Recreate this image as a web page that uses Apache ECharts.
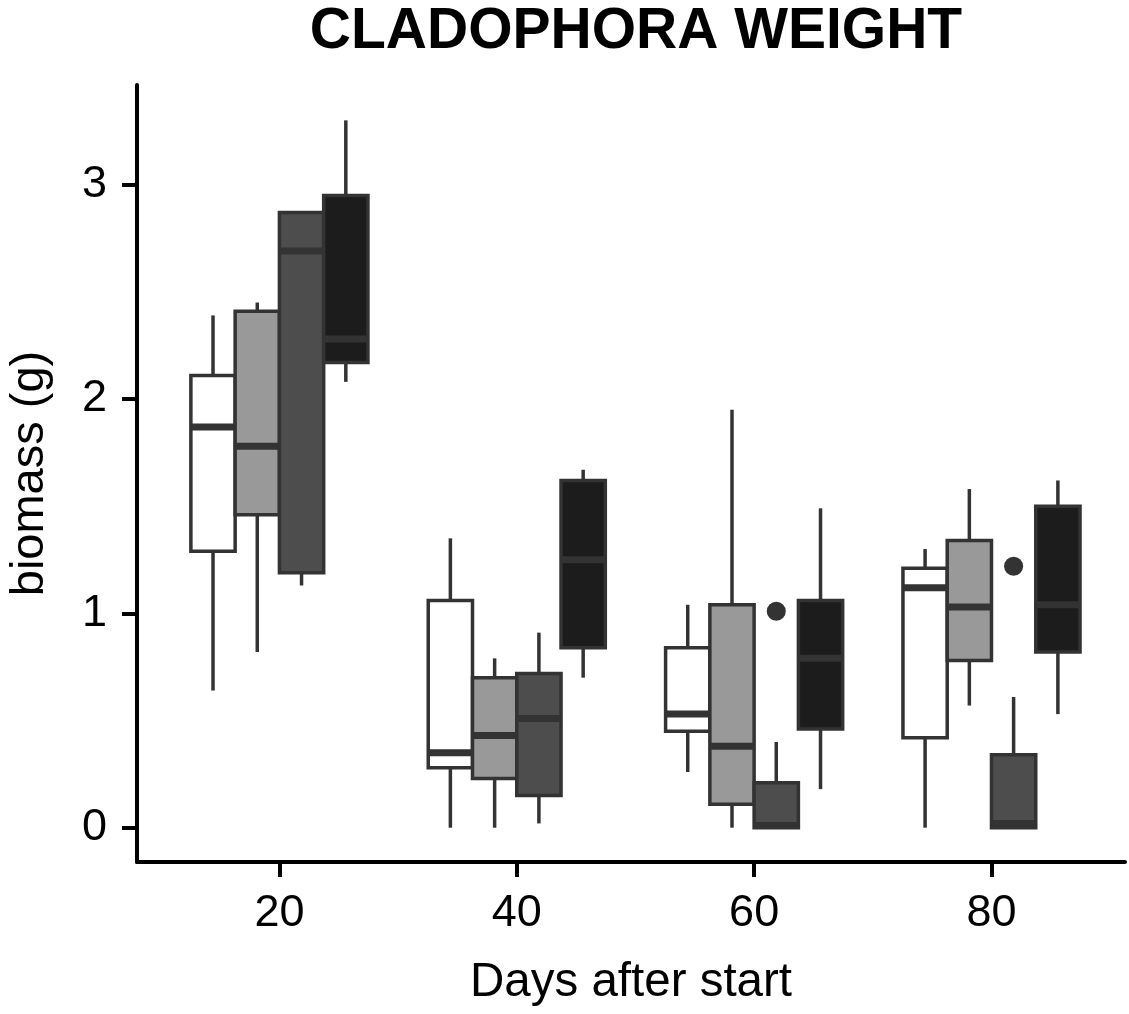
<!DOCTYPE html>
<html>
<head>
<meta charset="utf-8">
<script src="https://cdn.jsdelivr.net/npm/echarts@6/dist/echarts.min.js"></script>
<style>
  html, body { margin: 0; padding: 0; background: #ffffff; }
  #chart { width: 1129px; height: 1014px; }
</style>
</head>
<body>
<div id="chart"></div>
<script>
// ---- data ----
const days = [20, 40, 60, 80];
const xTickLabels = [20, 40, 60, 80];
const yTickLabels = [0, 1, 2, 3];

// each entry: [min, Q1, median, Q3, max] for days 20, 40, 60, 80
const treatment1 = [ // white
  [0.64, 1.29, 1.87, 2.11, 2.39],
  [0.00, 0.28, 0.35, 1.06, 1.35],
  [0.26, 0.45, 0.53, 0.84, 1.04],
  [0.00, 0.42, 1.12, 1.21, 1.30]
];
const treatment2 = [ // light grey
  [0.82, 1.46, 1.78, 2.41, 2.45],
  [0.00, 0.23, 0.43, 0.70, 0.79],
  [0.00, 0.11, 0.38, 1.04, 1.95],
  [0.57, 0.78, 1.03, 1.34, 1.58]
];
const treatment3 = [ // dark grey
  [1.13, 1.19, 2.69, 2.87, 2.87],
  [0.02, 0.15, 0.51, 0.72, 0.91],
  [0.00, 0.00, 0.01, 0.21, 0.40],
  [0.00, 0.00, 0.02, 0.34, 0.61]
];
const treatment4 = [ // black
  [2.08, 2.17, 2.28, 2.95, 3.30],
  [0.70, 0.84, 1.25, 1.62, 1.67],
  [0.18, 0.46, 0.79, 1.06, 1.49],
  [0.53, 0.82, 1.04, 1.50, 1.62]
];
const outlierDays = [60, 80];
const outlierTreatment = [2, 2]; // index of treatment (0-based)
const outlierValues = [1.01, 1.22];

// ---- styling / layout ----
const treatments = [treatment1, treatment2, treatment3, treatment4];
const fills = ['#FFFFFF', '#999999', '#4D4D4D', '#1C1C1C'];
const DODGE = 3.73;      // days between neighbouring boxes
const BOX_W = 3.73;      // box width in days
const LINE = '#333333';
const FONT = 'Liberation Sans, Arial, sans-serif';

function boxRenderer(k) {
  return function (params, api) {
    const xc = api.value(0) + (k - 1.5) * DODGE;
    const pMin = api.coord([xc, api.value(1)]);
    const pQ1 = api.coord([xc, api.value(2)]);
    const pMed = api.coord([xc, api.value(3)]);
    const pQ3 = api.coord([xc, api.value(4)]);
    const pMax = api.coord([xc, api.value(5)]);
    const halfW = api.size([BOX_W, 0])[0] / 2;
    const x = pMed[0];
    const lineStyle = { stroke: LINE, lineWidth: 3.5, fill: null };
    return {
      type: 'group',
      children: [
        { type: 'line', shape: { x1: x, y1: pQ3[1], x2: x, y2: pMax[1] }, style: lineStyle },
        { type: 'line', shape: { x1: x, y1: pQ1[1], x2: x, y2: pMin[1] }, style: lineStyle },
        { type: 'rect', shape: { x: x - halfW, y: pQ3[1], width: 2 * halfW, height: pQ1[1] - pQ3[1] },
          style: { fill: fills[k], stroke: LINE, lineWidth: 3.5 } },
        { type: 'line', shape: { x1: x - halfW, y1: pMed[1], x2: x + halfW, y2: pMed[1] },
          style: { stroke: LINE, lineWidth: 7 } }
      ]
    };
  };
}

const series = treatments.map(function (t, k) {
  return {
    type: 'custom',
    name: 'treatment' + (k + 1),
    renderItem: boxRenderer(k),
    dimensions: ['day', 'min', 'q1', 'median', 'q3', 'max'],
    encode: { x: 0, y: [1, 2, 3, 4, 5] },
    data: days.map(function (d, i) { return [d].concat(t[i]); }),
    clip: false,
    z: 2 + k
  };
});

series.push({
  type: 'custom',
  name: 'outliers',
  renderItem: function (params, api) {
    const xc = api.value(0) + (api.value(1) - 1.5) * DODGE;
    const p = api.coord([xc, api.value(2)]);
    return { type: 'circle', shape: { cx: p[0], cy: p[1], r: 9.5 }, style: { fill: LINE } };
  },
  dimensions: ['day', 'treatment', 'value'],
  encode: { x: 0, y: 2 },
  data: outlierDays.map(function (d, i) { return [d, outlierTreatment[i], outlierValues[i]]; }),
  z: 10
});

const chart = echarts.init(document.getElementById('chart'), null, { renderer: 'canvas' });
chart.setOption({
  animation: false,
  backgroundColor: '#ffffff',
  title: {
    text: 'CLADOPHORA WEIGHT',
    left: 636,
    top: 4,
    padding: 0,
    textAlign: 'center',
    textStyle: { fontFamily: FONT, fontSize: 57, fontWeight: 'bold', color: '#000000' }
  },
  grid: { left: 137, top: 85, width: 988, height: 777, outerBoundsMode: 'none', containLabel: false },
  xAxis: {
    type: 'value',
    min: 8,
    max: 91.25,
    name: 'Days after start',
    nameLocation: 'middle',
    nameGap: 97,
    nameTextStyle: { fontFamily: FONT, fontSize: 47.5, color: '#000000' },
    axisLine: { show: true, onZero: false, lineStyle: { color: '#000000', width: 4 } },
    axisTick: { show: true, customValues: xTickLabels, length: 15, lineStyle: { color: '#000000', width: 4 } },
    axisLabel: { show: true, customValues: xTickLabels, margin: 29, fontFamily: FONT, fontSize: 45, color: '#000000' },
    splitLine: { show: false }
  },
  yAxis: {
    type: 'value',
    min: -0.16,
    max: 3.465,
    name: 'biomass (g)',
    nameLocation: 'middle',
    nameGap: 83,
    nameRotate: 90,
    nameTextStyle: { fontFamily: FONT, fontSize: 47, color: '#000000' },
    axisLine: { show: true, onZero: false, lineStyle: { color: '#000000', width: 4 } },
    axisTick: { show: true, customValues: yTickLabels, length: 15, lineStyle: { color: '#000000', width: 4 } },
    axisLabel: { show: true, customValues: yTickLabels, margin: 30, fontFamily: FONT, fontSize: 45, color: '#000000' },
    splitLine: { show: false }
  },
  series: series
});
</script>
</body>
</html>
